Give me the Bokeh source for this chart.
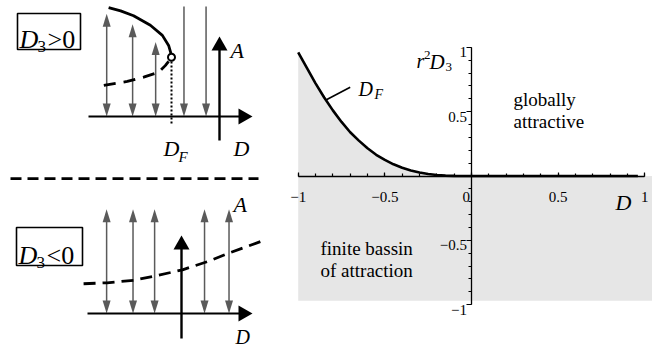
from bokeh.plotting import figure
from bokeh.layouts import row, column
from bokeh.models import LinearAxis, FixedTicker, Range1d
from bokeh.embed import file_html
from bokeh.resources import INLINE
from bokeh.core.properties import value

SERIF = "Liberation Serif"
GRAY = "#5a5a5a"

# ---------------- data ----------------
# fold curve D_F in the (D, r^2 D3) plane, then the D3 = 0 boundary for D > 0
df_D = [-1.0, -0.95, -0.9, -0.85, -0.8, -0.75, -0.7, -0.65, -0.6, -0.55, -0.5,
        -0.45, -0.4, -0.35, -0.3, -0.25, -0.2, -0.15, -0.1, -0.05, 0.0, 0.96]
df_R = [0.96, 0.84, 0.72, 0.61, 0.51, 0.42, 0.34, 0.275, 0.215, 0.165, 0.125,
        0.091, 0.064, 0.043, 0.027, 0.016, 0.008, 0.003, 0.001, 0.0, 0.0, 0.0]
basin_floor = -0.97

x_major = [-1, -0.5, 0, 0.5, 1]
x_minor = [round(-1 + 0.1 * i, 1) for i in range(21)]
y_major = [-1, -0.5, 0.5, 1]
y_minor = [round(-1 + 0.1 * i, 1) for i in range(21)]
x_tick_text = ["\u22121", "\u22120.5", "0", "0.5", "1"]
y_tick_text = ["\u22121", "\u22120.5", "0.5", "1"]

# D3 > 0 sketch: stable upper branch, unstable lower branch, fold point
up_D = [-2.31, -2.06, -1.79, -1.44, -1.19, -1.06, -1.01]
up_A = [2.27, 2.20, 2.10, 1.90, 1.69, 1.48, 1.31]
lo_D = [-2.41, -1.92, -1.58, -1.27, -1.13, -1.06]
lo_A = [0.65, 0.73, 0.82, 0.92, 1.06, 1.15]
fold_D, fold_A = -1.0, 1.235
t_arrow_D = [-2.35, -1.81, -1.33, -0.74, -0.28]
t_arrow_top = [2.14, 1.92, 1.55, 2.29, 2.29]
t_arrow_up = [True, True, True, False, False]

# D3 < 0 sketch: unstable branch over all D
b_curve_D = [-2.04, -1.55, -1.0, -0.51, 0.02, 0.54, 1.02, 1.65]
b_curve_A = [0.62, 0.64, 0.69, 0.79, 0.91, 1.08, 1.27, 1.50]
b_arrow_D = [-1.56, -1.01, -0.56, 0.48, 0.99]
b_arrow_top = [2.17, 2.17, 2.17, 2.17, 2.17]


def make_fig(w, h, xr, yr):
    p = figure(width=w, height=h, x_range=Range1d(*xr), y_range=Range1d(*yr),
               x_axis_type=None, y_axis_type=None, toolbar_location=None,
               output_backend="svg", min_border=0, outline_line_color=None,
               background_fill_color="white", border_fill_color="white")
    p.xgrid.visible = False
    p.ygrid.visible = False
    return p


def txt(p, x, y, s, size, italic=False, align="left"):
    p.text(x=[x], y=[y], text=[s], text_font=value(SERIF),
           text_font_size=value(f"{size}px"),
           text_font_style="italic" if italic else "normal",
           text_align=align, text_baseline="alphabetic", text_color="black")


class Sketch:
    """Small schematic panel: page-pixel origin of the axes and px per unit."""

    def __init__(self, ox, oy, s, top, w, h):
        self.ox, self.oy, self.s, self.top = ox, oy, s, top
        self.p = make_fig(w, h, ((0 - ox) / s, (w - ox) / s),
                          ((oy - (top + h)) / s, (oy - top) / s))

    def X(self, px):
        return (px - self.ox) / self.s

    def Y(self, py):
        return (self.oy - py) / self.s

    def head(self, x, y, dx, dy, length, half, color):
        L, W = length / self.s, half / self.s
        bx, by = x - dx * L, y - dy * L
        self.p.patch([x, bx - dy * W, bx + dy * W], [y, by + dx * W, by - dx * W],
                     color=color, line_width=0)

    def vline_arrow(self, x, y0, y1, head_top, head_bot, color=GRAY, width=1.5,
                    length=13, half=4):
        L = length / self.s * 0.6
        ya = y0 + (L if head_bot else 0)
        yb = y1 - (L if head_top else 0)
        self.p.line([x, x], [ya, yb], line_color=color, line_width=width)
        if head_top:
            self.head(x, y1, 0, 1, length, half, color)
        if head_bot:
            self.head(x, y0, 0, -1, length, half, color)

    def axes(self, d0, d1, a0, a1):
        p = self.p
        L = 14 / self.s
        p.line([d0, d1 - L * 0.8], [0, 0], line_color="black", line_width=2.2)
        self.head(d1, 0, 1, 0, 14, 8, "black")
        p.line([0, 0], [a0, a1 - L * 0.8], line_color="black", line_width=2.4)
        self.head(0, a1, 0, 1, 14, 8, "black")

    def box_label(self, l, t, r, b, rel):
        p = self.p
        p.quad(left=[self.X(l)], right=[self.X(r)], top=[self.Y(t)], bottom=[self.Y(b)],
               fill_color=None, line_color="black", line_width=1.6)
        txt(p, self.X(l + 2), self.Y(b - 10), "D", 26, italic=True)
        txt(p, self.X(l + 20), self.Y(b - 3), "3", 17)
        txt(p, self.X(l + 30), self.Y(b - 10), rel, 26)


# ---------------- upper sketch (D3 > 0) ----------------
top = Sketch(219, 116, 48, 0, 262, 180)
tp = top.p
for x, yt, up in zip(t_arrow_D, t_arrow_top, t_arrow_up):
    top.vline_arrow(x, 0, yt, head_top=up, head_bot=True)
top.axes(top.X(88), top.X(252), top.Y(140), top.Y(36))
tp.line(up_D, up_A, line_color="black", line_width=2.8)
tp.line(lo_D, lo_A, line_color="black", line_width=2.8, line_dash="12 8")
tp.line([fold_D, fold_D], [top.Y(123), fold_A - 0.08], line_color="black",
        line_width=2, line_dash="2 2")
tp.scatter([fold_D], [fold_A], size=7, marker="circle", fill_color="white",
           line_color="black", line_width=2)
top.box_label(17, 13, 80, 49, ">0")
txt(tp, top.X(230), top.Y(50), "A", 22, italic=True)
txt(tp, top.X(233), top.Y(148), "D", 22, italic=True)
txt(tp, top.X(163), top.Y(148), "D", 22, italic=True)
txt(tp, top.X(178), top.Y(156), "F", 15, italic=True)
# separator between the two sketches
tp.line([top.X(10), top.X(258)], [top.Y(178.3), top.Y(178.3)], line_color="black",
        line_width=3, line_dash="11 6")

# ---------------- lower sketch (D3 < 0) ----------------
bot = Sketch(181, 313, 48, 180, 262, 165)
bp = bot.p
for x, yt in zip(b_arrow_D, b_arrow_top):
    bot.vline_arrow(x, 0, yt, head_top=True, head_bot=True)
bot.axes(bot.X(87), bot.X(252), bot.Y(338), bot.Y(235))
bp.line(b_curve_D, b_curve_A, line_color="black", line_width=2.8, line_dash="12 7")
bot.box_label(16, 227, 82, 265, "<0")
txt(bp, bot.X(233), bot.Y(204), "A", 22, italic=True)
txt(bp, bot.X(235), bot.Y(336), "D", 20, italic=True)

# ---------------- parameter plane ----------------
R_LEFT, R_W, R_H = 262, 390, 345
X0, XS = 471.0, 173.3
Y0, YS = 175.5, 128.7
rp = make_fig(R_W, R_H, ((R_LEFT - X0) / XS, (R_LEFT + R_W - X0) / XS),
              ((Y0 - R_H) / YS, Y0 / YS))


def RX(px):
    return (px - X0) / XS


def RY(py):
    return (Y0 - py) / YS


rp.patch(df_D + [1.2, 1.2, df_D[0]], df_R + [0.0, basin_floor, basin_floor],
         fill_color="#e6e6e6", line_color=None)
rp.line(df_D, df_R, line_color="black", line_width=2.6)

axis_style = dict(fixed_location=0, bounds=(-1, 1), axis_line_width=1.3,
                  major_tick_line_width=1.2, minor_tick_line_width=1.2,
                  major_label_text_font_size="0px")
xaxis = LinearAxis(ticker=FixedTicker(ticks=x_major, minor_ticks=x_minor),
                   major_label_overrides={t: "" for t in x_major},
                   major_tick_in=4, major_tick_out=0, minor_tick_in=3, minor_tick_out=0,
                   **axis_style)
yaxis = LinearAxis(ticker=FixedTicker(ticks=y_major, minor_ticks=y_minor),
                   major_label_overrides={t: "" for t in y_major},
                   major_tick_in=0, major_tick_out=5, minor_tick_in=0, minor_tick_out=3,
                   **axis_style)
rp.add_layout(xaxis, "below")
rp.add_layout(yaxis, "left")

# tick labels: x below the axis ("0" tucked left of the vertical axis), y left of it
for t, s in zip(x_major, x_tick_text):
    if t == 0:
        txt(rp, t - 1.5 / XS, RY(196), s, 15, align="right")
    else:
        txt(rp, t, RY(196), s, 15, align="center")
for t, s in zip(y_major, y_tick_text):
    txt(rp, RX(466.5), t - 5 / YS, s, 15, align="right")

# axis titles
txt(rp, RX(416), RY(60), "r", 20, italic=True)
txt(rp, RX(423.5), RY(54), "2", 13)
txt(rp, RX(429), RY(61), "D", 21, italic=True)
txt(rp, RX(445), RY(66), "3", 13)
txt(rp, RX(615), RY(202), "D", 22, italic=True)
# curve label with leader
rp.line([-0.84, -0.70], [0.59, 0.69], line_color="black", line_width=1.6)
txt(rp, RX(358), RY(88), "D", 20, italic=True)
txt(rp, RX(374), RY(94), "F", 14, italic=True)
# regions
txt(rp, RX(513), RY(99), "globally", 19)
txt(rp, RX(513), RY(121), "attractive", 19)
txt(rp, RX(320), RY(248), "finite bassin", 19)
txt(rp, RX(320), RY(270), "of attraction", 19)

layout = row(column(tp, bp, spacing=0), rp, spacing=0)
open("out.html", "w").write(file_html(layout, INLINE))
